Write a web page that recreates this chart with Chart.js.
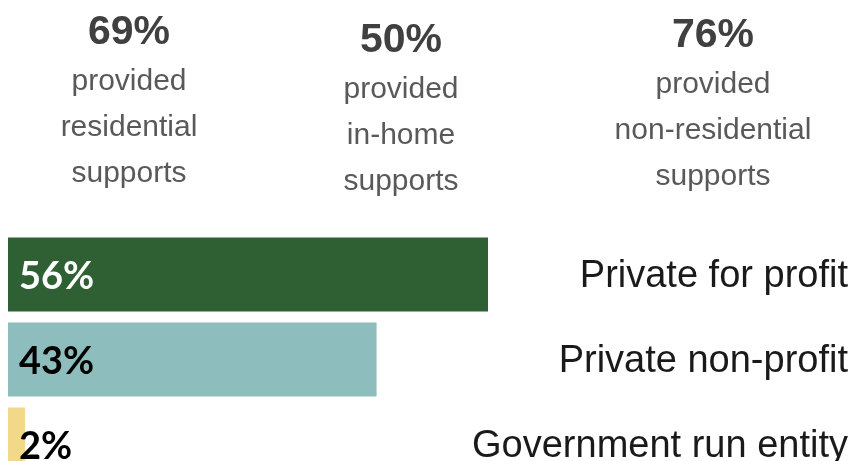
<!DOCTYPE html>
<html lang="en">

<head>
    <meta charset="UTF-8">
    <title>Provider types</title>
    <script src="https://cdn.jsdelivr.net/npm/chart.js@4.4.0/dist/chart.umd.min.js"></script>
    <style>
        body { margin: 0; background: #fff; }
        #frame { position: relative; width: 859px; height: 461px; overflow: hidden; }
        #myChart { position: absolute; left: 0; top: 0; }
        .stat { position: absolute; width: 280px; text-align: center; font-family: "Liberation Sans", Arial, sans-serif; }
        .stat .big { font-weight: bold; font-size: 41px; line-height: 40px; color: #404040; margin-bottom: 7px; }
        .stat .line { font-size: 30px; line-height: 46px; color: #595959; }
    </style>
</head>

<body>
    <div id="frame">
        <canvas id="myChart" width="859" height="500"></canvas>
    </div>
</body>
<script>
    // bar data
    const categories = ['Private for profit', 'Private non-profit', 'Government run entity'];
    const shares = [56, 43, 2];
    const barColors = ['#2f6033', '#8dbdbd', '#f2d98a'];
    const valueColors = ['#ffffff', '#000000', '#000000'];

    // headline numbers above the bars
    const headlineValues = ['69%', '50%', '76%'];
    const headlineLines = [
        ['provided', 'residential', 'supports'],
        ['provided', 'in-home', 'supports'],
        ['provided', 'non-residential', 'supports'],
    ];
    const headlineCenters = [129, 401, 713];
    const headlineTops = [10, 18, 13];

    const frame = document.getElementById('frame');
    headlineValues.forEach((val, i) => {
        const div = document.createElement('div');
        div.className = 'stat';
        div.style.left = (headlineCenters[i] - 140) + 'px';
        div.style.top = headlineTops[i] + 'px';
        let html = '<div class="big">' + val + '</div>';
        headlineLines[i].forEach(t => { html += '<div class="line">' + t + '</div>'; });
        div.innerHTML = html;
        frame.appendChild(div);
    });

    const barLabels = {
        id: 'barLabels',
        afterDatasetsDraw(chart) {
            const ctx = chart.ctx;
            const area = chart.chartArea;
            const meta = chart.getDatasetMeta(0);
            ctx.save();
            meta.data.forEach((bar, i) => {
                ctx.textBaseline = 'middle';
                ctx.font = 'bold 38px Lato';
                ctx.fillStyle = valueColors[i];
                ctx.textAlign = 'left';
                ctx.fillText(shares[i] + '%', area.left + 11, bar.y + 2);

                ctx.font = '38px "Liberation Sans"';
                ctx.fillStyle = '#1a1a1a';
                ctx.textAlign = 'right';
                ctx.fillText(categories[i], area.right, bar.y + 2);
            });
            ctx.restore();
        }
    };

    const ctx = document.getElementById('myChart').getContext('2d');
    const myChart = new Chart(ctx, {
        type: 'bar',
        data: {
            labels: categories,
            datasets: [{
                data: shares,
                backgroundColor: barColors,
                borderWidth: 0,
                barPercentage: 1,
                categoryPercentage: 0.87,
            }],
        },
        options: {
            indexAxis: 'y',
            responsive: false,
            animation: false,
            layout: { padding: { left: 8, right: 11, top: 232, bottom: 13 } },
            plugins: { legend: { display: false }, tooltip: { enabled: false } },
            scales: {
                x: { min: 0, max: 98, display: false },
                y: { display: false },
            },
        },
        plugins: [barLabels],
    });
</script>

</html>
